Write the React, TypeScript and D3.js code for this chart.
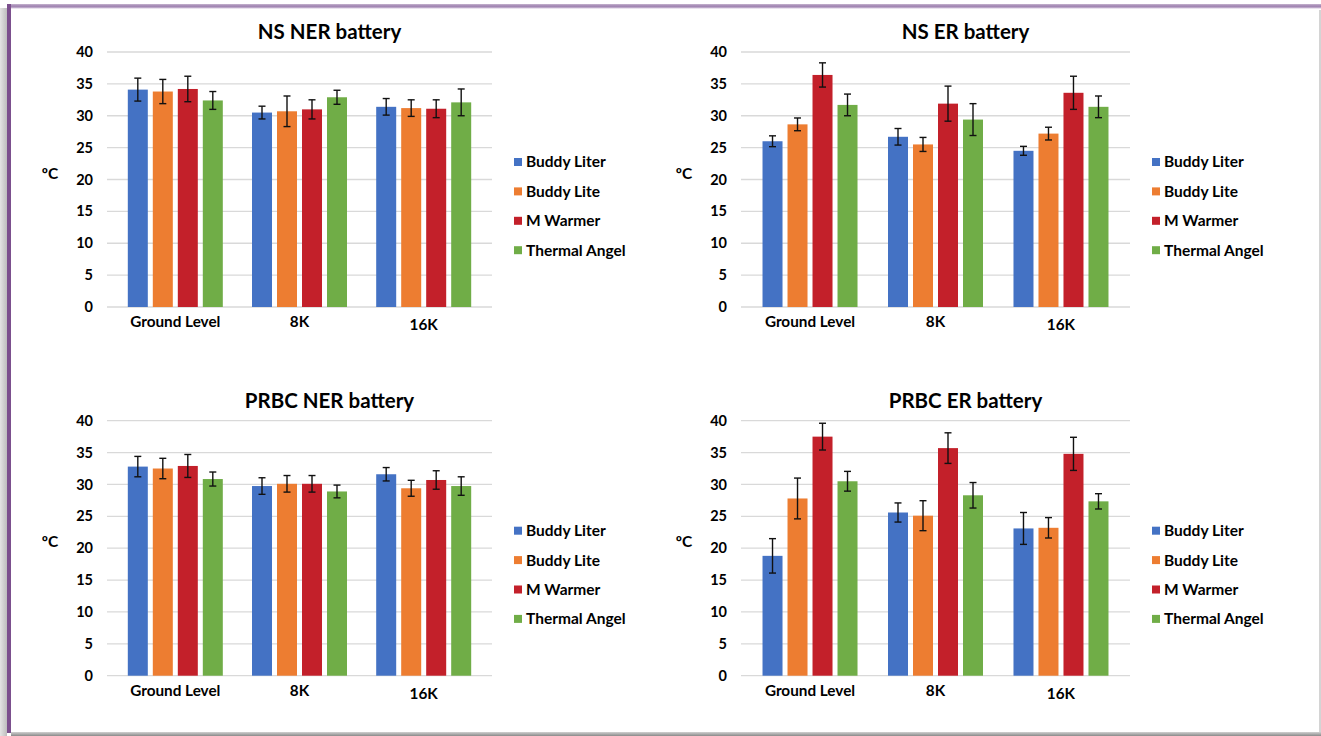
import React from 'react';
import * as d3 from 'd3';

// categories and series
const categories = ['Ground Level', '8K', '16K'];
const seriesNames = ['Buddy Liter', 'Buddy Lite', 'M Warmer', 'Thermal Angel'];
const seriesColors = ['#4472C4', '#ED7D31', '#C3202A', '#70AD47'];
const yTicks = [0, 5, 10, 15, 20, 25, 30, 35, 40];

// means / error bars, one row per series, one value per category
const nsNerMeans = [[34.1, 30.5, 31.4], [33.8, 30.7, 31.2], [34.2, 31.0, 31.1], [32.4, 32.9, 32.1]];
const nsNerErrors = [[1.8, 1.0, 1.3], [1.9, 2.4, 1.3], [2.0, 1.5, 1.4], [1.4, 1.1, 2.1]];

const nsErMeans = [[26.0, 26.7, 24.5], [28.65, 25.5, 27.2], [36.4, 31.9, 33.6], [31.7, 29.4, 31.4]];
const nsErErrors = [[0.85, 1.3, 0.7], [1.0, 1.1, 1.0], [1.9, 2.75, 2.6], [1.7, 2.5, 1.7]];

const prbcNerMeans = [[32.8, 29.75, 31.6], [32.5, 30.1, 29.4], [32.9, 30.1, 30.7], [30.85, 28.9, 29.75]];
const prbcNerErrors = [[1.6, 1.3, 1.05], [1.6, 1.3, 1.25], [1.8, 1.3, 1.45], [1.1, 1.0, 1.45]];

const prbcErMeans = [[18.8, 25.6, 23.1], [27.8, 25.1, 23.2], [37.5, 35.7, 34.8], [30.5, 28.3, 27.35]];
const prbcErErrors = [[2.7, 1.5, 2.5], [3.2, 2.35, 1.6], [2.1, 2.4, 2.6], [1.55, 2.0, 1.2]];

const FONT = "Lato, 'Open Sans', sans-serif";

const panels = [
  { title: 'NS NER battery', means: nsNerMeans, errors: nsNerErrors, x0: 107, x1: 492, top: 52, bottom: 307 },
  { title: 'NS ER battery', means: nsErMeans, errors: nsErErrors, x0: 741, x1: 1130, top: 52, bottom: 307 },
  { title: 'PRBC NER battery', means: prbcNerMeans, errors: prbcNerErrors, x0: 107, x1: 492, top: 420.7, bottom: 675.7 },
  { title: 'PRBC ER battery', means: prbcErMeans, errors: prbcErErrors, x0: 741, x1: 1130, top: 420.7, bottom: 675.7 },
];

function Panel({ p }) {
  const y = d3.scaleLinear().domain([0, 40]).range([p.bottom, p.top]);
  const x = d3.scaleBand().domain(categories).range([p.x0, p.x1]).paddingInner(0).paddingOuter(0.05);
  const xs = d3.scaleBand().domain(seriesNames).range([-47.5, 47.5]).paddingInner(0.2).paddingOuter(0);
  const bw = xs.bandwidth();
  const cap = 3.5;
  const labelDy = [0, 0, 2.5];

  return (
    <g>
      <text x={(p.x0 + p.x1) / 2 + 30} y={p.top - 13} textAnchor="middle" fontSize={20.5} fontWeight="bold" fill="#000">
        {p.title}
      </text>
      {yTicks.map(t => (
        <g key={t}>
          <line x1={p.x0} x2={p.x1} y1={y(t)} y2={y(t)} stroke="#d9d9d9" strokeWidth={1.3} />
          <text x={p.x0 - 14} y={y(t)} dy="0.35em" textAnchor="end" fontSize={14.5} fontWeight="bold" fill="#000">{t}</text>
        </g>
      ))}
      <text x={p.x0 - 57} y={y(21)} dy="0.35em" textAnchor="middle" fontSize={15.5} fontWeight="bold" fill="#000">ºC</text>
      {categories.map((c, ci) => {
        const cx = x(c) + x.bandwidth() / 2;
        return (
          <g key={c}>
            {seriesNames.map((s, si) => {
              const v = p.means[si][ci];
              const e = p.errors[si][ci];
              const bx = cx + xs(s);
              const mx = bx + bw / 2;
              return (
                <g key={s}>
                  <rect x={bx} y={y(v)} width={bw} height={y(0) - y(v)} fill={seriesColors[si]} />
                  <line x1={mx} x2={mx} y1={y(v + e)} y2={y(v - e)} stroke="#111" strokeWidth={1.4} />
                  <line x1={mx - cap} x2={mx + cap} y1={y(v + e)} y2={y(v + e)} stroke="#111" strokeWidth={1.4} />
                  <line x1={mx - cap} x2={mx + cap} y1={y(v - e)} y2={y(v - e)} stroke="#111" strokeWidth={1.4} />
                </g>
              );
            })}
            <text x={cx} y={y(0) + 15 + labelDy[ci]} dy="0.35em" textAnchor="middle" fontSize={15.3} fontWeight="bold" fill="#000">{c}</text>
          </g>
        );
      })}
      {seriesNames.map((s, si) => {
        const ly = p.top + 110 + si * 29.4;
        return (
          <g key={s}>
            <rect x={p.x1 + 22} y={ly - 4} width={8} height={8} fill={seriesColors[si]} />
            <text x={p.x1 + 34} y={ly} dy="0.35em" fontSize={15.5} fontWeight="bold" fill="#000">{s}</text>
          </g>
        );
      })}
    </g>
  );
}

export default function App() {
  const W = 1321;
  const H = 736;
  return (
    <svg width={W} height={H} style={{ position: 'absolute', left: 0, top: 0 }} fontFamily={FONT}>
      <defs>
        <linearGradient id="lshadow" x1="0" x2="1" y1="0" y2="0">
          <stop offset="0" stopColor="#e4e4e4" />
          <stop offset="1" stopColor="#bdbdbd" />
        </linearGradient>
        <linearGradient id="topbar" x1="0" x2="0" y1="0" y2="1">
          <stop offset="0" stopColor="#c6b4cf" />
          <stop offset="0.5" stopColor="#9c7fae" />
          <stop offset="1" stopColor="#d4c6dc" />
        </linearGradient>
        <linearGradient id="bottombar" x1="0" x2="0" y1="0" y2="1">
          <stop offset="0" stopColor="#d0d0d0" />
          <stop offset="1" stopColor="#8a8a8a" />
        </linearGradient>
      </defs>
      <rect x={0} y={0} width={W} height={H} fill="#fff" />
      <rect x={0} y={8} width={7} height={H - 8} fill="url(#lshadow)" />
      <rect x={7} y={4} width={W - 7} height={4.5} fill="url(#topbar)" />
      <rect x={7} y={4} width={4} height={729} fill="#7b4f8d" />
      <rect x={11} y={732} width={W - 11} height={4} fill="url(#bottombar)" />
      <rect x={1319} y={10} width={2} height={722} fill="#d4d4d4" />
      {panels.map(p => <Panel key={p.title} p={p} />)}
    </svg>
  );
}
